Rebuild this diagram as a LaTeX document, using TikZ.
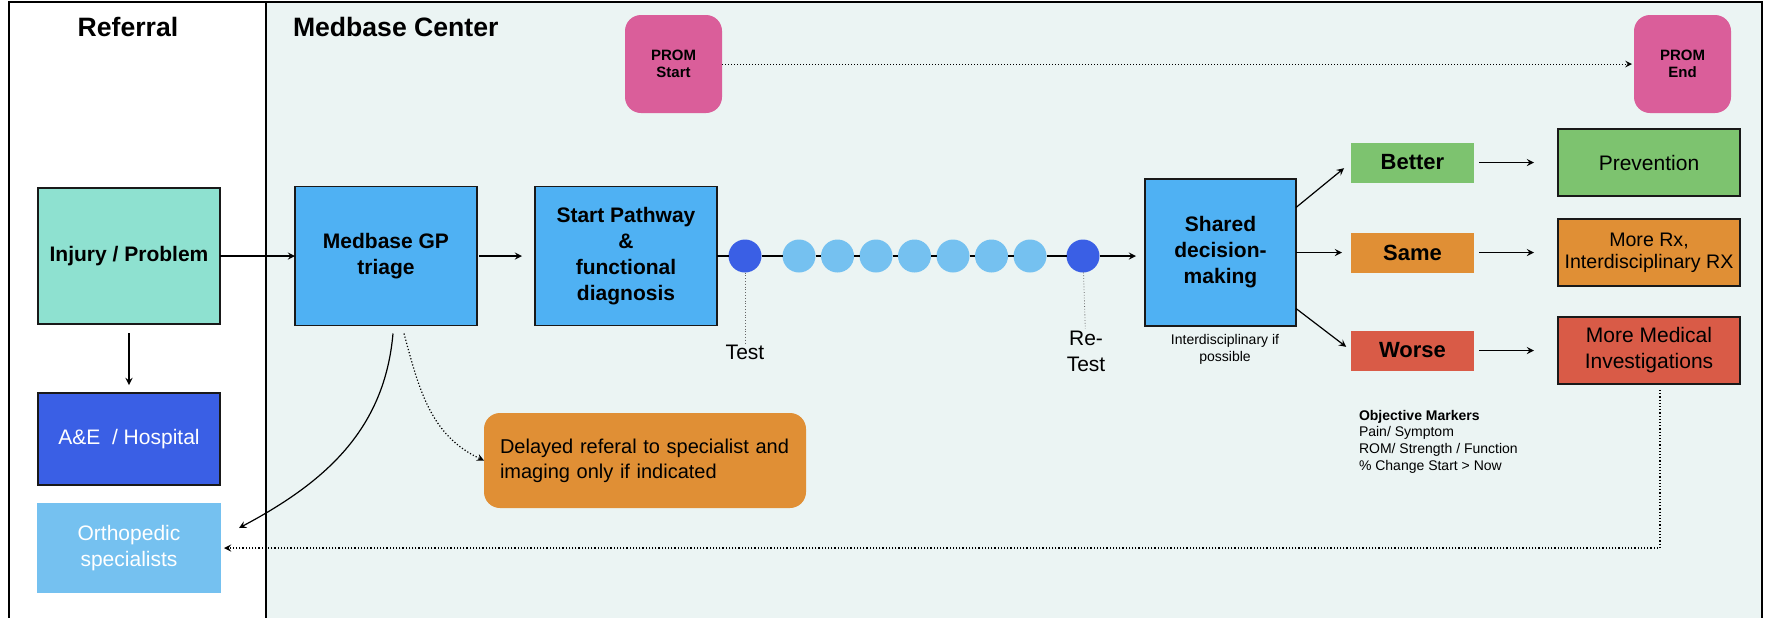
\documentclass[tikz,border=0pt]{standalone}
\usepackage{fontspec}
\setmainfont{Liberation Sans}
\usetikzlibrary{arrows.meta, positioning, calc}

\definecolor{mint}{HTML}{8EE1D0}
\definecolor{skyblue}{HTML}{4FB1F3}
\definecolor{paleblue}{HTML}{75C1F0}
\definecolor{royal}{HTML}{3A5FE5}
\definecolor{prompink}{HTML}{DA5E9A}
\definecolor{okgreen}{HTML}{7DC36F}
\definecolor{midorange}{HTML}{E08F35}
\definecolor{badred}{HTML}{D95B47}
\definecolor{panel}{HTML}{EBF4F3}

\tikzstyle{block} = [rectangle, draw=black!90, line width=0.75pt, outer sep=0pt, align=center, minimum width=91pt, minimum height=69.5pt, inner sep=2pt, font=\bfseries\fontsize{10.5}{13}\selectfont]
\tikzstyle{tag} = [rectangle, outer sep=0pt, align=center, minimum width=61.5pt, minimum height=20pt, font=\bfseries\fontsize{11}{13}\selectfont]
\tikzstyle{result} = [rectangle, draw=black!90, line width=0.9pt, outer sep=0pt, align=center, minimum width=91pt, minimum height=33.5pt, inner sep=1pt, font=\fontsize{10.5}{13}\selectfont]
\tikzstyle{prom} = [rectangle, rounded corners=8pt, fill=prompink, outer sep=0pt, align=center, minimum width=48.5pt, minimum height=49pt, font=\bfseries\fontsize{7.5}{8.5}\selectfont]
\tikzstyle{dot} = [circle, minimum size=16.5pt, inner sep=0pt, outer sep=0pt]
\tikzstyle{label} = [align=center, inner sep=1pt, outer sep=0pt, font=\fontsize{10.5}{13}\selectfont]
\tikzstyle{conv} = [line width=0.6pt, ->, >=stealth]
\tikzstyle{chain} = [line width=0.6pt]
\tikzstyle{guide} = [densely dotted, line width=0.4pt, black!60]
\tikzstyle{link} = [densely dotted, line width=0.6pt, ->, >=stealth]

\begin{document}
\begin{tikzpicture}[x=0.5pt, y=0.5pt, outer sep=0pt]
	\useasboundingbox (0,0) rectangle (1769,-617);

	% Panels
	\fill[panel] (266,-2) rectangle (1762,-640);
	\draw[line width=0.8pt] (9,-640) -- (9,-2) -- (1762,-2) -- (1762,-640);
	\draw[line width=0.8pt] (266,-2) -- (266,-640);
	\node (ref_title) at (128,-27) [inner sep=0pt, font=\bfseries\fontsize{13.3}{16}\selectfont] {Referral};
	\node (center_title) at (293,-27) [anchor=west, inner sep=0pt, font=\bfseries\fontsize{13.3}{16}\selectfont] {Medbase Center};

	% Referral column
	\node (injury) [block, fill=mint, minimum height=68pt] at (129,-256) {Injury / Problem};
	\node (hospital) [block, fill=royal, text=white, minimum height=46pt, below=34.5pt of injury, font=\fontsize{10.5}{13}\selectfont] {A\&E\ \ / Hospital};
	\node (ortho) [rectangle, fill=paleblue, text=white, align=center, minimum width=92pt, minimum height=45pt, below=9pt of hospital, font=\fontsize{10.5}{13}\selectfont] {Orthopedic\\specialists};

	% Pathway
	\node (triage) [block, fill=skyblue, right=37.5pt of injury] {Medbase GP\\triage};
	\node (pathway) [block, fill=skyblue, right=29pt of triage] {Start Pathway\\\&\\functional\\diagnosis};
	\node (test_dot) [dot, fill=royal, right=5.75pt of pathway] {};
	\node (s1) [dot, fill=paleblue, right=10.5pt of test_dot] {};
	\node (s2) [dot, fill=paleblue, right=2.75pt of s1] {};
	\node (s3) [dot, fill=paleblue, right=2.75pt of s2] {};
	\node (s4) [dot, fill=paleblue, right=2.75pt of s3] {};
	\node (s5) [dot, fill=paleblue, right=2.75pt of s4] {};
	\node (s6) [dot, fill=paleblue, right=2.75pt of s5] {};
	\node (s7) [dot, fill=paleblue, right=2.75pt of s6] {};
	\node (retest_dot) [dot, fill=royal, right=10pt of s7] {};
	\node (shared) [block, fill=skyblue, minimum width=75.5pt, minimum height=73.5pt, right=22.75pt of retest_dot, yshift=1.75pt] {Shared\\decision-\\making};

	\node (test_lbl) [label] at (745,-352) {Test};
	\node (retest_lbl) [label] at (1086,-351) {Re-\\Test};
	\node (shared_note) [below=3pt of shared, xshift=2.25pt, align=center, inner sep=1pt, font=\fontsize{7}{8.5}\selectfont] {Interdisciplinary if\\possible};
	\node (delayed) [rectangle, rounded corners=8pt, fill=midorange, minimum height=47.5pt, text width=145pt, inner xsep=8pt, align=left, font=\fontsize{10}{12.5}\selectfont] at (645,-460.5) {Delayed referal to specialist and\\imaging only if indicated};

	% PROM
	\node (prom_start) [prom] at (673.5,-64) {PROM\\Start};
	\node (prom_end) [prom] at (1682.5,-64) {PROM\\End};

	% Outcomes
	\node (same) [tag, fill=midorange, right=27.5pt of shared] {Same};
	\node (better) [tag, fill=okgreen, above=25pt of same] {Better};
	\node (worse) [tag, fill=badred, below=29pt of same] {Worse};
	\node (prevention) [result, fill=okgreen, right=42pt of better] {Prevention};
	\node (more_rx) [result, fill=midorange, right=42pt of same, font=\fontsize{9.8}{11}\selectfont] {More Rx,\\Interdisciplinary RX};
	\node (more_med) [result, fill=badred, right=42pt of worse] {More Medical\\Investigations};
	\node (markers) [anchor=north west, align=left, inner sep=0pt, font=\fontsize{7}{8.35}\selectfont] at (1359,-410) {\textbf{Objective Markers}\\Pain/ Symptom\\ROM/ Strength / Function\\\% Change Start > Now};

	% Arrows - referral
	\draw[conv] (injury) -- (triage);
	\draw[conv, shorten <=4.5pt, shorten >=4pt] (injury) -- (hospital);
	\draw[conv] ([xshift=3.5pt,yshift=-4pt]triage.south) to[out=-95, in=28] ([xshift=9pt,yshift=10pt]ortho.east);
	\draw[link] ([xshift=9pt,yshift=-4pt]triage.south) to[out=-75, in=155] (delayed.west);

	% Arrows - pathway
	\draw[conv, shorten <=1pt, shorten >=6.5pt] (triage) -- (pathway);
	\draw[chain] (pathway) -- (test_dot);
	\draw[chain] (test_dot) -- (s1);
	\draw[chain] (s1) -- (s2);
	\draw[chain] (s2) -- (s3);
	\draw[chain] (s3) -- (s4);
	\draw[chain] (s4) -- (s5);
	\draw[chain] (s5) -- (s6);
	\draw[chain] (s6) -- (s7);
	\draw[chain] (s7) -- (retest_dot);
	\draw[conv, shorten >=4.5pt] (retest_dot) -- (retest_dot -| shared.west);
	\draw[guide] (test_dot) -- (test_lbl);
	\draw[guide] (retest_dot) -- (retest_lbl);

	% Arrows - outcomes
	\draw[conv, shorten >=4.5pt] ($(shared.east)+(0,45)$) -- (better.west);
	\draw[conv, shorten >=4.5pt] (shared) -- (same);
	\draw[conv, shorten >=3pt] ($(shared.east)+(0,-56)$) -- (worse.west);
	\draw[conv, shorten <=2.5pt, shorten >=12pt] (better) -- (prevention);
	\draw[conv, shorten <=2.5pt, shorten >=12pt] (same) -- (more_rx);
	\draw[conv, shorten <=2.5pt, shorten >=12pt] (worse) -- (more_med);

	% PROM and return
	\draw[link, line width=0.5pt, shorten >=1pt] (prom_start) -- (prom_end);
	\draw[link, shorten <=3pt, shorten >=1.5pt] ([xshift=5.5pt]more_med.south) |- (ortho.east);

\end{tikzpicture}
\end{document}
